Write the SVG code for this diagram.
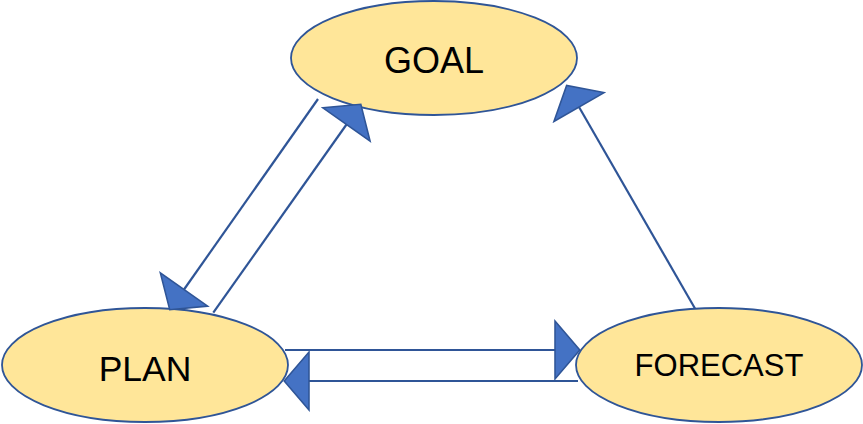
<svg xmlns="http://www.w3.org/2000/svg" width="863" height="424" viewBox="0 0 863 424">
<style>
.node ellipse{fill:#FFE699;stroke:#2F5597;stroke-width:1.8}
.node text{font-family:"Liberation Sans",Arial,sans-serif;fill:#000;text-anchor:middle}
.conn line{stroke:#2F5597;stroke-width:2.2;marker-end:url(#tri)}
</style>
<defs>
<marker id="tri" markerUnits="userSpaceOnUse" markerWidth="30" markerHeight="62" viewBox="-2 -2 28 60" refX="0" refY="28" orient="auto">
<path d="M0,0 L24,28 L0,56 Z" fill="#4472C4" stroke="#2F5597" stroke-width="1.5" stroke-linejoin="miter"/>
</marker>
</defs>
<rect width="863" height="424" fill="#fff"/>
<g id="goal" class="node">
<ellipse cx="434" cy="58" rx="143" ry="57"/>
<text x="434" y="73" font-size="36">GOAL</text>
</g>
<g id="plan" class="node">
<ellipse cx="145" cy="365" rx="143" ry="57"/>
<text x="145" y="381" font-size="35.5">PLAN</text>
</g>
<g id="forecast" class="node">
<ellipse cx="719" cy="365" rx="143" ry="57"/>
<text x="719" y="375.5" font-size="31">FORECAST</text>
</g>
<g id="connectors" class="conn">
<line x1="318" y1="99" x2="184" y2="289.5"/>
<line x1="213.3" y1="312.7" x2="346.5" y2="124.5"/>
<line x1="695" y1="308.5" x2="579" y2="107"/>
<line x1="285" y1="350" x2="555" y2="350"/>
<line x1="578" y1="381" x2="309" y2="381"/>
</g>
</svg>
